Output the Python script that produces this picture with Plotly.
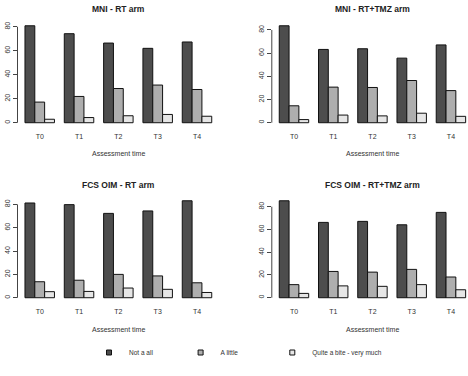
import plotly.graph_objects as go

times = ["T0", "T1", "T2", "T3", "T4"]
series_names = ["Not a all", "A little", "Quite a bite - very much"]
colors = ["#4D4D4D", "#AEAEAE", "#E6E6E6"]

titles = ["MNI - RT arm", "MNI - RT+TMZ arm", "FCS OIM - RT arm", "FCS OIM - RT+TMZ arm"]

mni_rt_not = [80.8, 74.2, 66.4, 62.0, 67.3]
mni_rt_little = [17.2, 21.9, 28.5, 31.4, 27.7]
mni_rt_quite = [2.9, 4.3, 5.8, 6.9, 5.4]

mni_tmz_not = [83.6, 63.2, 63.8, 55.7, 67.1]
mni_tmz_little = [14.6, 30.7, 30.4, 36.4, 27.7]
mni_tmz_quite = [2.7, 6.6, 5.9, 8.2, 5.5]

fcs_rt_not = [81.2, 79.8, 72.3, 74.4, 83.1]
fcs_rt_little = [13.7, 15.0, 20.0, 18.7, 12.8]
fcs_rt_quite = [5.2, 5.4, 8.3, 7.2, 4.5]

fcs_tmz_not = [85.2, 66.2, 67.1, 64.1, 75.0]
fcs_tmz_little = [11.5, 23.1, 22.5, 24.9, 18.2]
fcs_tmz_quite = [3.8, 10.4, 10.0, 11.5, 7.0]

panels = [
    [mni_rt_not, mni_rt_little, mni_rt_quite],
    [mni_tmz_not, mni_tmz_little, mni_tmz_quite],
    [fcs_rt_not, fcs_rt_little, fcs_rt_quite],
    [fcs_tmz_not, fcs_tmz_little, fcs_tmz_quite],
]
yticks = [0, 20, 40, 60, 80]

W, H = 468, 376
FONT = "Liberation Sans, Arial, sans-serif"

# panel plot regions in pixels (left, right, top, bottom)
regions = [
    (17.5, 219.2, 21.9, 126.6),
    (271.8, 468.0, 21.9, 126.6),
    (17.5, 219.2, 196.9, 301.6),
    (271.8, 468.0, 196.9, 301.6),
]
bar_px = [9.83, 9.81, 9.83, 9.81]
title_y = [9.5, 9.5, 185.0, 185.0]
xtitle_y = [154.0, 154.0, 329.5, 329.5]
legend_left_px = [89.0, 180.6, 272.3]

fig = go.Figure()
layout = dict(
    width=W, height=H,
    margin=dict(l=0, r=0, t=0, b=0),
    paper_bgcolor="white", plot_bgcolor="white",
    barmode="group", bargap=0.25, bargroupgap=0,
    font=dict(family=FONT, color="#222"),
    showlegend=True,
)
annotations = []
shapes = []

for i, data in enumerate(panels):
    n = i + 1
    xa = "x" if n == 1 else f"x{n}"
    ya = "y" if n == 1 else f"y{n}"
    for k, vals in enumerate(data):
        fig.add_trace(go.Bar(
            x=times, y=vals, name=series_names[k], xaxis=xa, yaxis=ya,
            marker=dict(color=colors[k], line=dict(color="#111", width=1)),
            showlegend=False,
        ))
    L, R, T, B = regions[i]
    ymax = max(max(s) for s in data)
    unit = bar_px[i] * 4
    center0 = L + (0.76 + 1.5) * bar_px[i]
    x0 = (L - center0) / unit
    x1 = (R - center0) / unit
    layout[f"xaxis{'' if n == 1 else n}"] = dict(
        domain=[L / W, R / W], range=[x0, x1], anchor=ya,
        showgrid=False, zeroline=False, showline=False, ticks="",
        ticklabelstandoff=4,
        tickfont=dict(size=7, family=FONT, color="#333"),
        type="category", fixedrange=True,
    )
    layout[f"yaxis{'' if n == 1 else n}"] = dict(
        domain=[1 - B / H, 1 - T / H], range=[-0.04 * ymax, 1.04 * ymax],
        anchor=xa, showgrid=False, zeroline=False, showline=False,
        tickvals=yticks, ticktext=[str(v) for v in yticks],
        ticks="outside", ticklen=4, tickcolor="#444", tickwidth=1,
        tickangle=-90, tickfont=dict(size=7, family=FONT, color="#333"),
        fixedrange=True,
    )
    shapes.append(dict(
        type="line", xref=f"{xa} domain", yref=ya, x0=0, x1=0,
        y0=yticks[0], y1=yticks[-1], line=dict(color="#444", width=1),
    ))
    cx = (L + (R if i % 2 == 0 else 473.0)) / 2 / W
    annotations.append(dict(
        text=f"<b>{titles[i]}</b>", xref="paper", yref="paper",
        x=cx, y=1 - title_y[i] / H,
        showarrow=False, xanchor="center", yanchor="middle",
        font=dict(size=8.5, family=FONT, color="#222"),
    ))
    annotations.append(dict(
        text="Assessment time", xref="paper", yref="paper",
        x=cx, y=1 - xtitle_y[i] / H,
        showarrow=False, xanchor="center", yanchor="middle",
        font=dict(size=7, family=FONT, color="#333"),
    ))

for k, name in enumerate(series_names):
    lg = "legend" if k == 0 else f"legend{k + 1}"
    fig.add_trace(go.Scatter(
        x=[None], y=[None], mode="markers", name=name,
        marker=dict(symbol="square", size=5, color=colors[k],
                    line=dict(color="#111", width=1)),
        showlegend=True, legend=lg,
    ))
    layout[lg] = dict(
        orientation="h", x=legend_left_px[k] / W, xanchor="left",
        y=1 - 352.5 / H, yanchor="middle",
        font=dict(size=6.5, family=FONT, color="#333"),
        itemwidth=30, bgcolor="rgba(0,0,0,0)",
        itemclick=False, itemdoubleclick=False,
    )

layout["annotations"] = annotations
layout["shapes"] = shapes
fig.update_layout(**layout)
fig.write_html("out.html")
